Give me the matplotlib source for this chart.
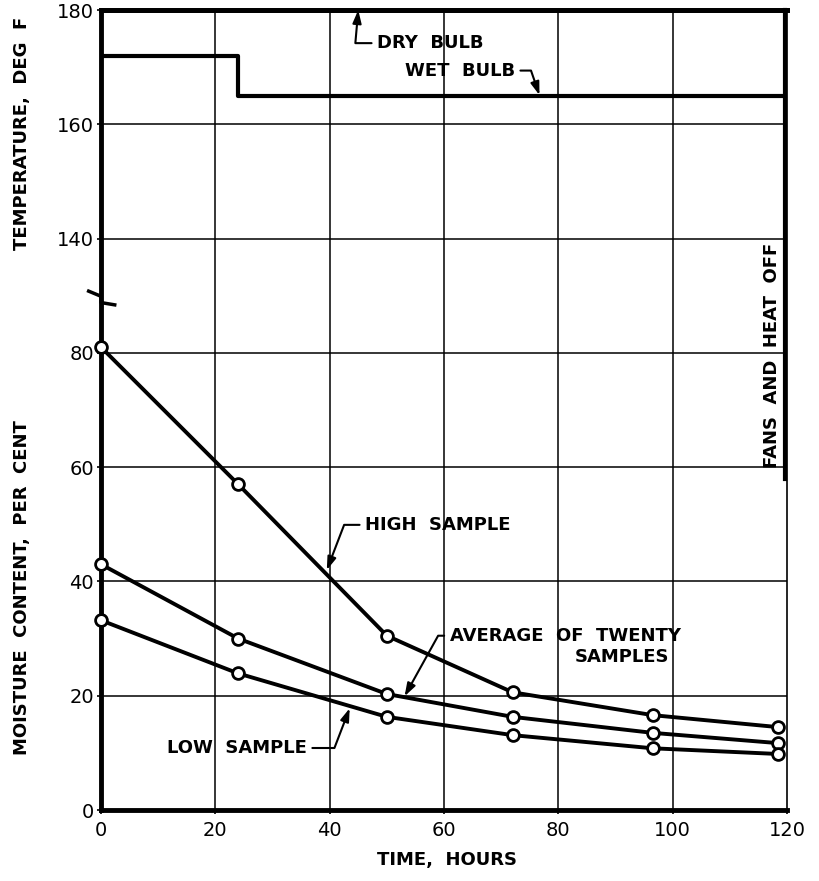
import numpy as np
import matplotlib
matplotlib.use('Agg')
import matplotlib.pyplot as plt
import matplotlib.transforms as mtransforms

# Dados
hours = [0, 24, 50, 72, 96.5, 118.5]
high_sample = [81, 57, 30.5, 20.6, 16.6, 14.5]
average_sample = [43, 30, 20.3, 16.3, 13.5, 11.7]
low_sample = [33.2, 23.9, 16.3, 13.1, 10.8, 9.8]

dry_bulb_hours = [0, 120]
dry_bulb_temp = [180, 180]
wet_bulb_hours = [0, 24, 24, 120]
wet_bulb_temp = [172, 172, 165, 165]

x_ticks = [0, 20, 40, 60, 80, 100, 120]
y_tick_labels = [0, 20, 40, 60, 80, 140, 160, 180]

# a escala de temperatura fica acima da quebra do eixo (140 F -> posicao 100)
temp_offset = 40
y_tick_pos = [v if v <= 80 else v - temp_offset for v in y_tick_labels]

plt.rcParams['font.family'] = ['DejaVu Sans']
fig = plt.figure(figsize=(8.2, 8.81), dpi=100)
ax = fig.add_axes([101 / 820, 71 / 881, 686 / 820, 800 / 881])

ax.set_xlim(0, 120)
ax.set_ylim(0, 140)

# grade
for x in x_ticks[1:-1]:
    ax.axvline(x, color='black', lw=1.1, zorder=1)
for y in y_tick_pos[1:-1]:
    ax.axhline(y, color='black', lw=1.1, zorder=1)

# temperaturas
ax.plot(dry_bulb_hours, np.array(dry_bulb_temp) - temp_offset, color='black', lw=3.5, zorder=3, clip_on=False)
ax.plot(wet_bulb_hours, np.array(wet_bulb_temp) - temp_offset, color='black', lw=3, zorder=3)

# umidade
style = dict(color='black', lw=2.8, marker='o', markersize=8.5, markerfacecolor='white',
             markeredgecolor='black', markeredgewidth=2, zorder=4, clip_on=False)
ax.plot(hours, high_sample, **style)
ax.plot(hours, average_sample, **style)
ax.plot(hours, low_sample, **style)

# linha de desligamento
ax.plot([119.7, 119.7], [140, 58], color='black', lw=3, zorder=3, clip_on=False)
ax.text(117.3, 79.5, 'FANS  AND  HEAT  OFF', rotation=90, ha='center', va='center',
        fontsize=13, fontweight='bold')

for side in ['left', 'bottom', 'top']:
    ax.spines[side].set_linewidth(3.5)
ax.spines['right'].set_linewidth(1.2)

ax.set_xticks(x_ticks)
ax.set_xticklabels([str(v) for v in x_ticks])
ax.set_yticks(y_tick_pos)
ax.set_yticklabels([str(v) for v in y_tick_labels])
ax.tick_params(axis='both', length=3, width=1.2, labelsize=14, direction='out')
ax.tick_params(axis='x', pad=5)
ax.tick_params(axis='y', pad=2)

# marca de quebra no eixo
trans = mtransforms.blended_transform_factory(ax.transAxes, ax.transData)
ax.plot([-0.018, 0.0, 0.0, 0.02], [90.8, 89.9, 88.8, 88.4], color='black', lw=2.5,
        transform=trans, clip_on=False, zorder=5)

arrow = dict(arrowstyle='-|>,head_length=0.6,head_width=0.2', color='black', lw=1.5,
             shrinkA=2, shrinkB=0)
txt = dict(fontsize=13, fontweight='bold', va='center')

ax.annotate('DRY  BULB', xy=(45, 140), xytext=(48.3, 134.2), ha='left',
            arrowprops=dict(arrow, connectionstyle='angle,angleA=180,angleB=-95,rad=0'), **txt)
ax.annotate('WET  BULB', xy=(76.7, 125.1), xytext=(72.4, 129.4), ha='right',
            arrowprops=dict(arrow, connectionstyle='angle,angleA=0,angleB=109,rad=0'), **txt)
ax.annotate('HIGH  SAMPLE', xy=(39.5, 42.0), xytext=(46.2, 49.9), ha='left',
            arrowprops=dict(arrow, connectionstyle='angle,angleA=180,angleB=69,rad=0'), **txt)
ax.annotate('AVERAGE  OF  TWENTY', xy=(53.1, 19.9), xytext=(61.0, 30.5), ha='left',
            arrowprops=dict(arrow, connectionstyle='angle,angleA=180,angleB=61,rad=0'), **txt)
ax.text(91.2, 26.8, 'SAMPLES', ha='center', **txt)
ax.annotate('LOW  SAMPLE', xy=(43.5, 17.8), xytext=(36.0, 10.85), ha='right',
            arrowprops=dict(arrow, connectionstyle='angle,angleA=0,angleB=249,rad=0'), **txt)

fig.text(0.027, 1 - 133 / 881, 'TEMPERATURE,  DEG  F', rotation=90, ha='center', va='center',
         fontsize=13, fontweight='bold')
fig.text(0.027, 1 - 588 / 881, 'MOISTURE  CONTENT,  PER  CENT', rotation=90, ha='center',
         va='center', fontsize=13, fontweight='bold')
fig.text(447 / 820, 1 - 860 / 881, 'TIME,  HOURS', ha='center', va='center',
         fontsize=13, fontweight='bold')

fig.savefig('out.png', dpi=100)
